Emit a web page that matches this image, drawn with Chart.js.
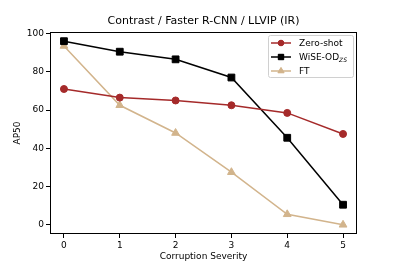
<!DOCTYPE html>
<html>
<head>
<meta charset="utf-8">
<script src="https://cdn.jsdelivr.net/npm/chart.js@4/dist/chart.umd.min.js"></script>
<style>
  html, body { margin: 0; padding: 0; background: #fff; }
  #wrap { width: 397px; height: 264px; }
</style>
</head>
<body>
<div id="wrap"><canvas id="myChart" width="397" height="264"></canvas></div>
<script>
const severity = [0, 1, 2, 3, 4, 5];
const zeroShot = [71, 66.5, 65, 62.5, 58.5, 47.5];
const wiseOd = [96, 90.5, 86.5, 77, 45.5, 10.5];
const ft = [93.5, 62.5, 48, 27.5, 5.5, 0];
const yTicks = [0, 20, 40, 60, 80, 100];

const FONT = 'DejaVu Sans';

function pts(arr) {
    return arr.map((v, i) => ({ x: severity[i], y: v }));
}

const series = [
    { label: 'Zero-shot', color: '#a52a2a', style: 'circle', rad: 3.5, data: zeroShot },
    { label: 'WiSE-OD', sub: 'ZS', color: '#000000', style: 'rect', rad: 4.8, data: wiseOd },
    { label: 'FT', color: '#d2b48c', style: 'triangle', rad: 4.5, data: ft }
];

// frame, title, axis titles, legend
const extras = {
    id: 'extras',
    afterDraw(chart) {
        const ctx = chart.ctx;
        const a = chart.chartArea;
        ctx.save();
        ctx.strokeStyle = '#000';
        ctx.lineWidth = 1;
        ctx.strokeRect(a.left + 0.5, a.top + 0.5, a.right - a.left - 1, a.bottom - a.top - 1);

        ctx.fillStyle = '#000';
        ctx.textAlign = 'center';
        ctx.textBaseline = 'middle';
        ctx.font = '11px "' + FONT + '"';
        ctx.fillText('Contrast / Faster R-CNN / LLVIP (IR)', (a.left + a.right) / 2, 21);

        ctx.font = '9px "' + FONT + '"';
        ctx.fillText('Corruption Severity', (a.left + a.right) / 2, 257);
        ctx.save();
        ctx.translate(18, (a.top + a.bottom) / 2);
        ctx.rotate(-Math.PI / 2);
        ctx.fillText('AP50', 0, 0);
        ctx.restore();

        // legend
        const lx = 268, ly = 35, lw = 85, lh = 42;
        ctx.fillStyle = 'rgba(255,255,255,0.8)';
        ctx.strokeStyle = '#d0d0d0';
        ctx.lineWidth = 1;
        ctx.beginPath();
        ctx.roundRect(lx + 0.5, ly + 0.5, lw, lh, 2);
        ctx.fill();
        ctx.stroke();
        series.forEach((s, i) => {
            const y = ly + 8 + i * 14;
            ctx.strokeStyle = s.color;
            ctx.lineWidth = 1.5;
            ctx.beginPath();
            ctx.moveTo(271, y);
            ctx.lineTo(291, y);
            ctx.stroke();
            ctx.fillStyle = s.color;
            ctx.lineWidth = 1;
            Chart.helpers.drawPoint(ctx, { pointStyle: s.style, radius: s.rad * 0.8, borderWidth: 1 }, 281, y);
            ctx.fill();
            ctx.fillStyle = '#000';
            ctx.textAlign = 'left';
            ctx.font = '9px "' + FONT + '"';
            ctx.fillText(s.label, 299, y + 0.5);
            if (s.sub) {
                const w = ctx.measureText(s.label).width;
                ctx.font = 'italic 6px "' + FONT + '"';
                ctx.fillText(s.sub, 299 + w, y + 3);
            }
        });
        ctx.restore();
    }
};

const ctx = document.getElementById('myChart').getContext('2d');

const chart = new Chart(ctx, {
    type: 'line',
    data: {
        datasets: series.map((s) => ({
            label: s.sub ? s.label + s.sub : s.label,
            data: pts(s.data),
            borderColor: s.color,
            backgroundColor: s.color,
            borderWidth: 1.5,
            pointStyle: s.style,
            pointRadius: s.rad,
            pointBorderWidth: 1,
            tension: 0
        }))
    },
    options: {
        responsive: false,
        animation: false,
        layout: { padding: { left: 0, right: 40, top: 32, bottom: 0 } },
        plugins: {
            legend: { display: false },
            title: { display: false },
            tooltip: { enabled: false }
        },
        scales: {
            x: {
                type: 'linear',
                min: -0.25,
                max: 5.25,
                afterBuildTicks: (scale) => { scale.ticks = severity.map((v) => ({ value: v })); },
                afterFit: (scale) => { scale.height = 30; },
                grid: { drawOnChartArea: false, tickLength: 4, color: '#000' },
                border: { display: false },
                ticks: { color: '#000', font: { family: FONT, size: 9 }, padding: 2, maxRotation: 0 }
            },
            y: {
                min: -4.8,
                max: 100.8,
                afterBuildTicks: (scale) => { scale.ticks = yTicks.map((v) => ({ value: v })); },
                afterFit: (scale) => { scale.width = 50; },
                grid: { drawOnChartArea: false, tickLength: 4, color: '#000' },
                border: { display: false },
                ticks: { color: '#000', font: { family: FONT, size: 9 }, padding: 2 }
            }
        }
    },
    plugins: [extras]
});
</script>
</body>
</html>
